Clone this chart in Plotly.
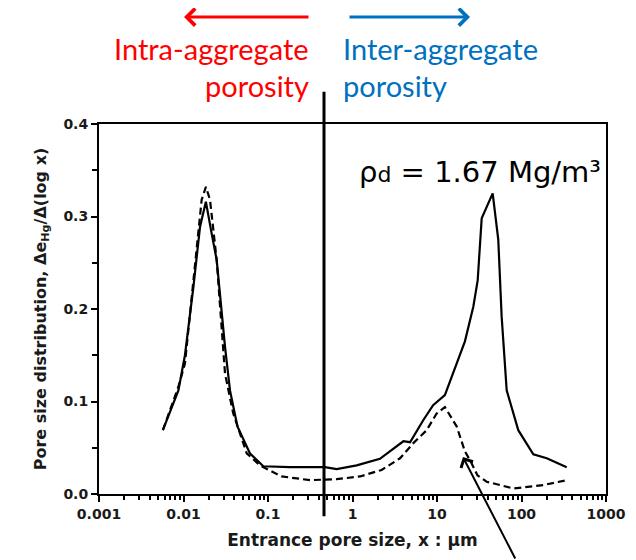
import math
import plotly.graph_objects as go

# ---- data ----
solid_x = [0.0057, 0.0087, 0.0104, 0.0131, 0.0157, 0.0184, 0.0215, 0.0247, 0.031, 0.0355,
           0.0435, 0.061, 0.088, 0.18, 0.47, 0.65, 1.12, 2.11, 4.0, 4.8, 6.9, 9.0, 12.4,
           17.1, 21.4, 26.9, 30.3, 33.8, 45.6, 53.1, 58.2, 66.8, 91.6, 138, 199, 343]
solid_y = [0.069, 0.112, 0.150, 0.224, 0.289, 0.316, 0.282, 0.253, 0.159, 0.112,
           0.073, 0.044, 0.030, 0.029, 0.029, 0.027, 0.031, 0.038, 0.057, 0.056, 0.080, 0.096, 0.107,
           0.141, 0.165, 0.2025, 0.231, 0.298, 0.325, 0.275, 0.192, 0.112, 0.069, 0.043, 0.0386, 0.0288]

dash_x = [0.0057, 0.0087, 0.0104, 0.0164, 0.0184, 0.0206, 0.0247, 0.031, 0.0388,
          0.056, 0.080, 0.145, 0.314, 0.65, 1.23, 2.21, 3.65, 5.25, 7.55, 9.9, 12.4,
          17.1, 21.4, 25.1, 30.2, 38.7, 80.2, 181, 343]
dash_y = [0.069, 0.116, 0.141, 0.318, 0.332, 0.318, 0.253, 0.130, 0.087,
          0.044, 0.031, 0.019, 0.015, 0.016, 0.019, 0.026, 0.0386, 0.055, 0.069, 0.087, 0.094,
          0.073, 0.046, 0.035, 0.020, 0.0133, 0.006, 0.0097, 0.015]

x_tickvals = [0.001, 0.01, 0.1, 1, 10, 100, 1000]
x_ticktext = ["0.001", "0.01", "0.1", "1", "10", "100", "1000"]
y_tickvals = [0.0, 0.1, 0.2, 0.3, 0.4]
y_ticktext = ["0.0", "0.1", "0.2", "0.3", "0.4"]

divider_x = 0.46          # boundary between intra- and inter-aggregate porosity (µm)
arrow_tip = (20.3, 0.040) # point the black arrow indicates

tick_font = dict(family="DejaVu Sans", size=14, color="#1a1a1a", weight="bold")

fig = go.Figure()
fig.add_trace(go.Scatter(x=solid_x, y=solid_y, mode="lines",
                         line=dict(color="black", width=2.2), showlegend=False))
fig.add_trace(go.Scatter(x=dash_x, y=dash_y, mode="lines",
                         line=dict(color="black", width=2.2, dash="7px,4px"), showlegend=False))

fig.update_layout(
    width=636, height=560,
    margin=dict(l=91, r=38, t=116, b=74),
    paper_bgcolor="white", plot_bgcolor="white",
    xaxis=dict(type="log", range=[-3, 3], tickvals=x_tickvals, ticktext=x_ticktext,
               showgrid=False, zeroline=False, showline=True, linecolor="black", linewidth=2,
               mirror=True, ticks="outside", ticklen=6, tickwidth=2, tickcolor="black",
               minor=dict(ticks="outside", ticklen=4, tickwidth=1.5, tickcolor="black",
                          tickvals=[m * 10 ** e for e in range(-3, 3) for m in range(2, 10)]),
               tickfont=tick_font,
               title=dict(text="Entrance pore size, x : µm", standoff=13,
                          font=dict(family="DejaVu Sans", size=17, color="#1a1a1a",
                                    weight="bold"))),
    yaxis=dict(range=[0, 0.4], tickvals=y_tickvals, ticktext=y_ticktext,
               showgrid=False, zeroline=False, showline=True, linecolor="black", linewidth=2,
               mirror=True, ticks="outside", ticklen=6, tickwidth=2, tickcolor="black",
               minor=dict(ticks="outside", ticklen=5, tickwidth=1.5, tickcolor="black",
                          dtick=0.05),
               tickfont=tick_font,
               title=dict(text="Pore size distribution, Δe<sub>Hg</sub>/Δ(log x)", standoff=13,
                          font=dict(family="DejaVu Sans", size=16, color="#1a1a1a",
                                    weight="bold"))),
)

# vertical divider line crossing the plot
fig.add_shape(type="line", xref="x", yref="paper", x0=divider_x, x1=divider_x,
              y0=-0.06, y1=1.087, line=dict(color="black", width=3))

label_font = dict(family="Lato, Open Sans", size=29)
fig.add_annotation(xref="paper", yref="paper", x=0.1677, y=1.289, ax=126, ay=0,
                   axref="pixel", ayref="pixel", text="", showarrow=True,
                   arrowhead=4, arrowsize=1.1, arrowwidth=3, arrowcolor="#FF0000")
fig.add_annotation(xref="paper", yref="paper", x=0.7318, y=1.289, ax=-122, ay=0,
                   axref="pixel", ayref="pixel", text="", showarrow=True,
                   arrowhead=4, arrowsize=1.1, arrowwidth=3, arrowcolor="#0070C0")
fig.add_annotation(xref="paper", yref="paper", x=(311 - 99) / 507, y=(494 - 48) / 370,
                   xanchor="right", yanchor="middle", text="Intra-aggregate", showarrow=False,
                   font=dict(color="#FF0000", **label_font))
fig.add_annotation(xref="paper", yref="paper", x=(311 - 99) / 507, y=(494 - 86) / 370,
                   xanchor="right", yanchor="middle", text="porosity", showarrow=False,
                   font=dict(color="#FF0000", **label_font))
fig.add_annotation(xref="paper", yref="paper", x=(341 - 99) / 507, y=(494 - 48) / 370,
                   xanchor="left", yanchor="middle", text="Inter-aggregate", showarrow=False,
                   font=dict(color="#0070C0", **label_font))
fig.add_annotation(xref="paper", yref="paper", x=(341 - 99) / 507, y=(494 - 86) / 370,
                   xanchor="left", yanchor="middle", text="porosity", showarrow=False,
                   font=dict(color="#0070C0", **label_font))

# density label
fig.add_annotation(xref="paper", yref="paper", x=(603 - 99) / 507, y=(494 - 172) / 370,
                   xanchor="right", yanchor="middle",
                   text="ρ<span style='font-size:22px'>d</span> = 1.67 Mg/m³", showarrow=False,
                   font=dict(family="DejaVu Sans", size=29, color="black"))

# black pointer arrow (log axis: x given as log10 value)
fig.add_annotation(x=math.log10(arrow_tip[0]), y=arrow_tip[1], xref="x", yref="y",
                   ax=53, ay=103, text="", showarrow=True,
                   arrowhead=4, arrowsize=1.3, arrowwidth=2, arrowcolor="black")

fig.write_html("out.html")
